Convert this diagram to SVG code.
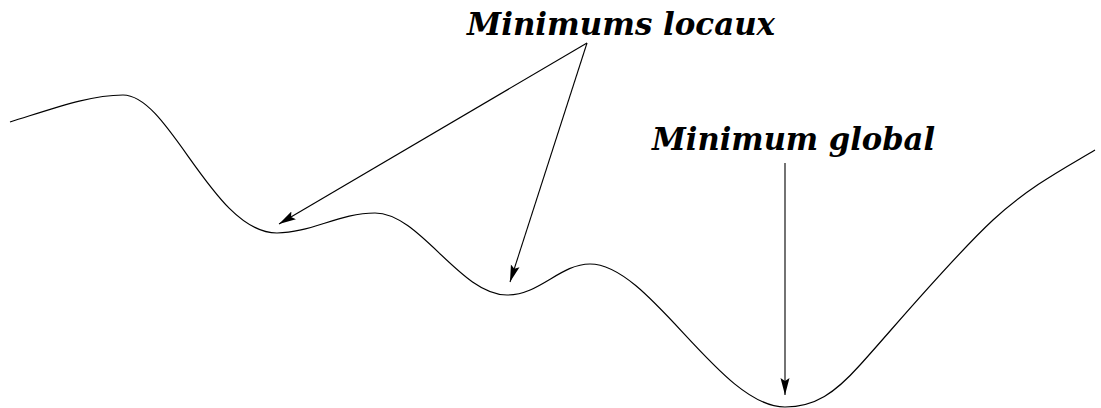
<svg xmlns="http://www.w3.org/2000/svg" width="1101" height="408" viewBox="0 0 1101 408">
<style>
.lbl{font-family:"DejaVu Serif","Liberation Serif",serif;font-weight:bold;font-style:italic;font-size:32px;fill:#000}
.curve{fill:none;stroke:#000;stroke-width:1.2}
.conn{fill:none;stroke:#000;stroke-width:1.1}
</style>
<defs>
<marker id="ah" markerUnits="userSpaceOnUse" markerWidth="20" markerHeight="12" refX="17" refY="5" orient="auto">
<path d="M17,5 L0,0.5 L3,5 L0,9.5 z" fill="#000"/>
</marker>
</defs>
<rect width="1101" height="408" fill="#fff"/>
<g id="curve">
<path class="curve" d="M10,122 C55,108 90,95 123,95 C170,95 213,233 277,233 C310,233 340,213 375,213 C420,213 460,295 507,295 C540,295 560,264 590,264 C650,264 720,407 785,407 C815,407 835,393 860,365 C890,332 950,260 993,220 C1030,186 1065,168 1095,150"/>
</g>
<g id="label-locaux">
<text class="lbl" x="467" y="35" textLength="308" lengthAdjust="spacingAndGlyphs">Minimums locaux</text>
</g>
<g id="label-global">
<text class="lbl" x="652" y="150" textLength="283" lengthAdjust="spacingAndGlyphs">Minimum global</text>
</g>
<g id="connectors">
<line class="conn" x1="587" y1="43" x2="279" y2="224" marker-end="url(#ah)"/>
<line class="conn" x1="587" y1="43" x2="510" y2="282" marker-end="url(#ah)"/>
<line class="conn" x1="785" y1="163" x2="785" y2="395" marker-end="url(#ah)"/>
</g>
</svg>
